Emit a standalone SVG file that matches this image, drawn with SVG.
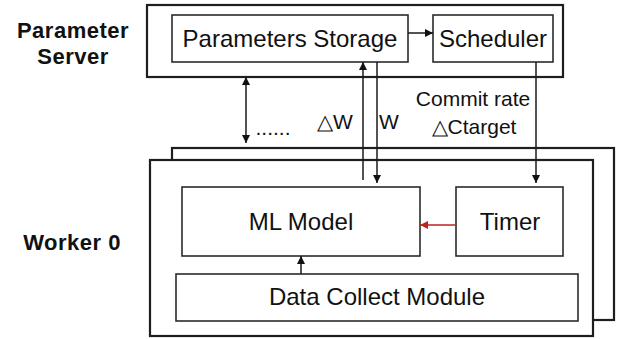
<svg xmlns="http://www.w3.org/2000/svg" width="621" height="339" viewBox="0 0 621 339">
  <style>
    .box { fill: #fff; stroke: #2b2b2b; stroke-width: 1.6; }
    .frame { fill: #fff; stroke: #1e1e1e; stroke-width: 2.2; }
    .lbl { font-family: "Liberation Sans", Arial, sans-serif; font-size: 24px; fill: #111; text-anchor: middle; }
    .side { font-family: "Liberation Sans", Arial, sans-serif; font-size: 22px; font-weight: bold; fill: #111; text-anchor: middle; letter-spacing: 0.5px; }
    .note { font-family: "Liberation Sans", Arial, sans-serif; font-size: 21px; fill: #111; text-anchor: middle; }
    .wire { stroke: #1a1a1a; stroke-width: 1.5; fill: none; }
    .red { stroke: #b8261c; stroke-width: 1.5; fill: none; }
  </style>
  <defs>
    <marker id="ah" viewBox="0 0 10 10" refX="10" refY="5" markerWidth="8" markerHeight="8" markerUnits="userSpaceOnUse" orient="auto-start-reverse">
      <path d="M0,0 L10,5 L0,10 z" fill="#111"/>
    </marker>
    <marker id="ahr" viewBox="0 0 10 10" refX="10" refY="5" markerWidth="8" markerHeight="8" markerUnits="userSpaceOnUse" orient="auto">
      <path d="M0,0 L10,5 L0,10 z" fill="#b8261c"/>
    </marker>
  </defs>

  <!-- side labels -->
  <text class="side" x="73" y="38">Parameter</text>
  <text class="side" x="73" y="64">Server</text>
  <text class="side" x="72" y="250">Worker 0</text>

  <!-- parameter server -->
  <g id="parameter-server">
    <rect class="frame" x="147" y="5" width="416" height="72"/>
  </g>
  <g id="parameters-storage">
    <rect class="box" x="172" y="15" width="236" height="47"/>
    <text class="lbl" x="290" y="47">Parameters Storage</text>
  </g>
  <g id="scheduler">
    <rect class="box" x="433" y="15" width="120" height="47"/>
    <text class="lbl" x="493" y="47">Scheduler</text>
  </g>

  <!-- workers: one stacked behind worker 0 -->
  <g id="worker-stack">
    <rect class="frame" x="172" y="148" width="442" height="172"/>
  </g>
  <g id="worker-0">
    <rect class="frame" x="150" y="160" width="443" height="176"/>
  </g>
  <g id="ml-model">
    <rect class="box" x="182" y="187" width="238" height="69"/>
    <text class="lbl" x="301" y="230">ML Model</text>
  </g>
  <g id="timer">
    <rect class="box" x="456" y="187" width="107" height="69"/>
    <text class="lbl" x="510" y="230">Timer</text>
  </g>
  <g id="data-collect">
    <rect class="box" x="176" y="274" width="402" height="47"/>
    <text class="lbl" x="377" y="305">Data Collect Module</text>
  </g>

  <!-- connectors -->
  <g id="connectors">
    <line class="wire" x1="408" y1="33" x2="433" y2="33" marker-end="url(#ah)"/>
    <line class="wire" x1="246" y1="77" x2="246" y2="143" marker-start="url(#ah)" marker-end="url(#ah)"/>
    <line class="wire" x1="363" y1="180" x2="363" y2="62" marker-end="url(#ah)"/>
    <line class="wire" x1="377" y1="62" x2="377" y2="183" marker-end="url(#ah)"/>
    <line class="wire" x1="536" y1="62" x2="536" y2="183" marker-end="url(#ah)"/>
    <line class="red" x1="456" y1="225" x2="420" y2="225" marker-end="url(#ahr)"/>
    <line class="wire" x1="301" y1="274" x2="301" y2="256" marker-end="url(#ah)"/>
  </g>

  <!-- connector labels -->
  <text class="note" x="273" y="135" font-size="18">......</text>
  <text class="note" x="335" y="129">△W</text>
  <text class="note" x="389" y="129">W</text>
  <text class="note" x="473" y="106">Commit rate</text>
  <text class="note" x="474" y="134">△Ctarget</text>
</svg>
